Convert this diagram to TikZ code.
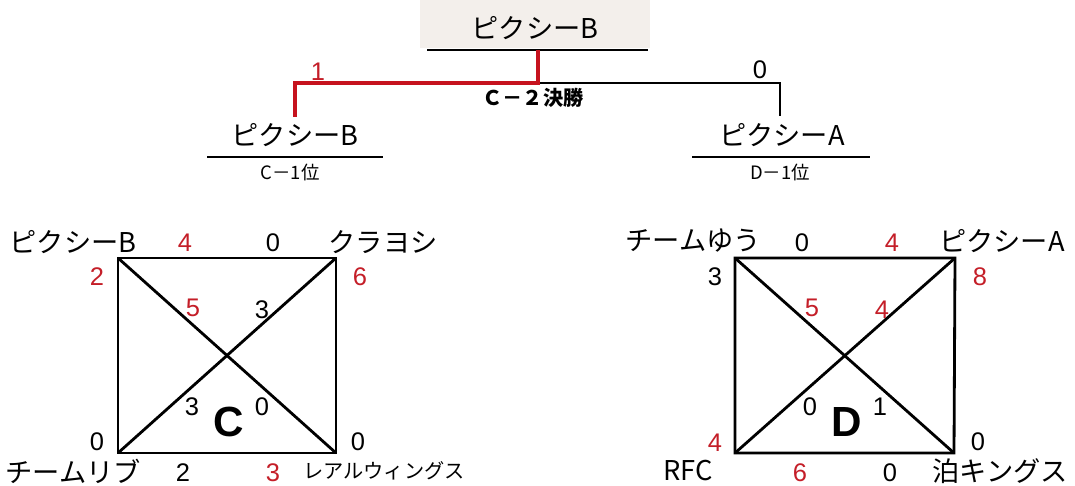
\documentclass[tikz,border=0pt]{standalone}
\usepackage{fontspec}
\setmainfont{Liberation Sans}
\newfontfamily\jp{Noto Sans CJK JP}
\definecolor{redpt}{RGB}{196,30,40}
\definecolor{redline}{RGB}{198,18,30}
\definecolor{boxfill}{RGB}{243,239,235}
\tikzset{
  team/.style={font=\jp\fontsize{15.5}{15.5}\selectfont, inner sep=0pt},
  smallteam/.style={font=\jp\fontsize{11.5}{11.5}\selectfont, inner sep=0pt},
  num/.style={font=\fontsize{14.5}{14.5}\selectfont, inner sep=0pt},
  numred/.style={num, text=redpt},
  rank/.style={font=\jp\fontsize{10.5}{10.5}\selectfont, inner sep=0pt},
  grp/.style={font=\bfseries\fontsize{24}{24}\selectfont, inner sep=0pt},
  side/.style={line width=1.6pt},
  winpath/.style={line width=2.6pt, color=redline},
  under/.style={line width=1.2pt},
}
\begin{document}
\begin{tikzpicture}[x=0.02cm,y=-0.02cm]
		\useasboundingbox (0,0) rectangle (1075,486);
		
		% Final
		\fill[boxfill] (420,0) rectangle (650,48);
		\node[team] (champ) at (535,28) {ピクシーB};
		\draw[under] (427,50) -- (648,50);
		\coordinate (top) at (538,50);
		\coordinate (mid) at (538,83);
		\coordinate (lt) at (295,83);
		\coordinate (lb) at (295,117);
		\coordinate (rt) at (780,83);
		\coordinate (rb) at (780,116);
		\draw[side] (mid) -- (rt) -- (rb);
		\draw[winpath] (top) -- (mid) -- (lt) -- (lb);
		\node[numred] (s1) at (318,72) {1};
		\node[num] (s0) at (760,70) {0};
		\node[rank, font=\jp\bfseries\fontsize{11.5}{11.5}\selectfont] (final) at (533,98) {Ｃ－２決勝};
		
		% Semifinalists
		\node[team] (wc) at (295,135) {ピクシーB};
		\draw[under] (207,157) -- (383,157);
		\node[rank] (wcr) at (290,172) {C－1位};
		\node[team] (wd) at (782,135) {ピクシーA};
		\draw[under] (692,157) -- (870,157);
		\node[rank] (wdr) at (780,172) {D－1位};
		
		% Group C
		\coordinate (c1) at (118,258);
		\coordinate (c2) at (336,258);
		\coordinate (c3) at (118,453);
		\coordinate (c4) at (336,453);
		\draw[side] (c1) -- (c2) -- (c4) -- (c3) -- cycle;
		\draw[side] (c1) -- (c4);
		\draw[side] (c3) -- (c2);
		\node[team] (cpb) at (73,242) {ピクシーB};
		\node[team] (ckr) at (383,242) {クラヨシ};
		\node[team] (clv) at (73,471) {チームリブ};
		\node[smallteam] (crw) at (384,471) {レアルウィングス};
		\node[numred] at (185,243) {4};
		\node[num] at (273,243) {0};
		\node[numred] at (97,277) {2};
		\node[numred] at (360,277) {6};
		\node[numred] at (193,308) {5};
		\node[num] at (262,310) {3};
		\node[num] at (192,407) {3};
		\node[num] at (262,407) {0};
		\node[grp] (gc) at (229,422) {C};
		\node[num] at (97,442) {0};
		\node[num] at (358,442) {0};
		\node[num] at (183,473) {2};
		\node[numred] at (273,473) {3};
		
		% Group D
		\coordinate (d1) at (735,258);
		\coordinate (d2) at (955,258);
		\coordinate (d3) at (735,453);
		\coordinate (d4) at (954,453);
		\draw[side] (d1) -- (d2) -- (d4) -- (d3) -- cycle;
		\draw[side] (d1) -- (d4);
		\draw[side] (d3) -- (d2);
		\node[team] (dyu) at (693,241) {チームゆう};
		\node[team] (dpa) at (1002,241) {ピクシーA};
		\node[team] (drf) at (688,471) {RFC};
		\node[team] (dtk) at (1000,471) {泊キングス};
		\node[num] at (802,243) {0};
		\node[numred] at (892,243) {4};
		\node[num] at (715,277) {3};
		\node[numred] at (980,277) {8};
		\node[numred] at (812,308) {5};
		\node[numred] at (882,310) {4};
		\node[num] at (810,407) {0};
		\node[num] at (880,407) {1};
		\node[grp] (gd) at (847,422) {D};
		\node[numred] at (715,443) {4};
		\node[num] at (978,442) {0};
		\node[numred] at (800,473) {6};
		\node[num] at (890,473) {0};
		
	\end{tikzpicture}
\end{document}
